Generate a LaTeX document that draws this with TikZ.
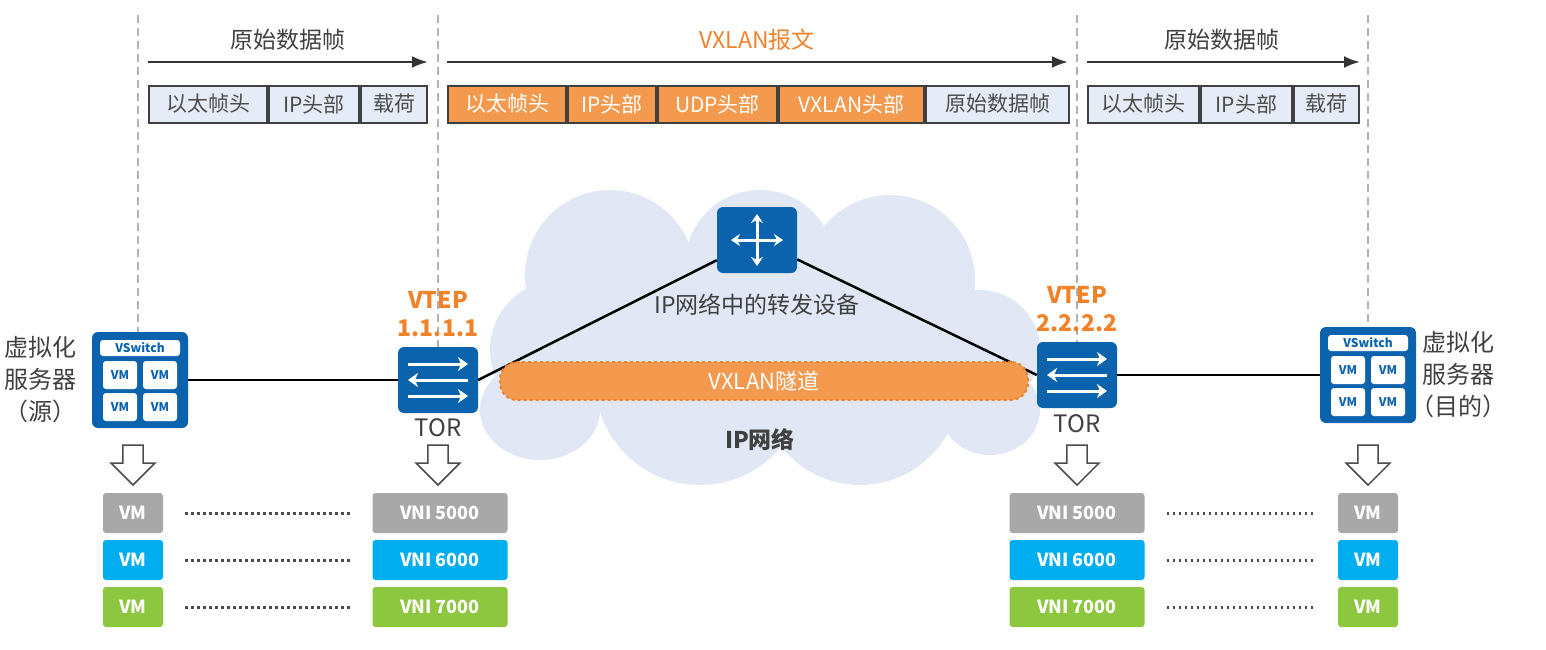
\documentclass[tikz,border=0pt]{standalone}
\usepackage{fontspec}
\setmainfont{Noto Sans CJK SC}
\usetikzlibrary{positioning,calc,shapes.arrows,arrows.meta}
\definecolor{hwblue}{HTML}{0B63AE}
\definecolor{hworange}{HTML}{F39A4F}
\definecolor{vtep}{HTML}{F0822A}
\definecolor{cloudc}{HTML}{E1E7F4}
\definecolor{pale}{HTML}{E6ECF7}
\definecolor{vmgray}{HTML}{A8A8A8}
\definecolor{vmblue}{HTML}{00AEEF}
\definecolor{vmgreen}{HTML}{8DC63F}
\tikzset{
fld/.style={draw=black!75,line width=2pt,fill=pale,minimum height=37pt,inner sep=0pt,font=\fontsize{21}{21}\selectfont,text=black!70},
ofld/.style={fld,fill=hworange,text=white},
dev/.style={draw=none,fill=hwblue,rounded corners=6pt,minimum width=80pt,minimum height=66pt},
vsw/.style={draw=none,fill=hwblue,rounded corners=6pt,minimum width=96pt,minimum height=96pt},
vm/.style={fill=#1,text=white,rounded corners=3pt,minimum height=40pt,inner sep=0pt,font=\fontsize{18}{18}\selectfont\bfseries},
hollow/.style={single arrow,draw=black!70,fill=white,line width=1.5pt,shape border rotate=270,minimum height=40pt,minimum width=44pt,single arrow head extend=8pt,inner sep=6pt},
sep/.style={dashed,line width=1.5pt,black!30,dash pattern=on 8pt off 5pt},
lbl/.style={font=\fontsize{23}{25}\selectfont,text=black!75,align=center}
}
\begin{document}
\begin{tikzpicture}[x=1pt,y=-1pt]
\useasboundingbox (0,0) rectangle (1546,649);
% cloud
\fill[cloudc] (610,275) circle (85) (760,265) circle (75) (890,280) circle (85)
  (560,350) circle (70) (980,350) circle (60) (700,380) circle (105) (860,385) circle (100)
  (540,410) ellipse (60 and 50) (990,410) ellipse (50 and 45);
% separators
\draw[sep] (138,15) -- (138,332);
\draw[sep] (438,15) -- (438,347);
\draw[sep] (1077,15) -- (1077,342);
\draw[sep] (1368,15) -- (1368,327);
% frame arrows
\coordinate (a1) at (148,62); \coordinate (b1) at (428,62);
\coordinate (a2) at (447,62); \coordinate (b2) at (1068,62);
\coordinate (a3) at (1087,62); \coordinate (b3) at (1360,62);
\foreach \s/\e in {a1/b1,a2/b2,a3/b3}
  \draw[line width=2.5pt,black!80,-{Latex[length=16pt,width=12pt]}] (\s) -- (\e);
\node[lbl] (t1) at (288,40) {原始数据帧};
\node[lbl,text=vtep] (t2) at (757,40) {VXLAN报文};
\node[lbl] (t3) at (1222,40) {原始数据帧};
% fields
\node[fld,minimum width=118pt,anchor=west] (f1) at (148,104) {以太帧头};
\node[fld,minimum width=90pt,right=0pt of f1] (f2) {IP头部};
\node[fld,minimum width=66pt,right=0pt of f2] (f3) {载荷};
\node[ofld,minimum width=118pt,anchor=west] (g1) at (447,104) {以太帧头};
\node[ofld,minimum width=88pt,right=0pt of g1] (g2) {IP头部};
\node[ofld,minimum width=119pt,right=0pt of g2] (g3) {UDP头部};
\node[ofld,minimum width=145pt,right=0pt of g3] (g4) {VXLAN头部};
\node[fld,minimum width=143pt,right=0pt of g4] (g5) {原始数据帧};
\node[fld,minimum width=111pt,anchor=west] (h1) at (1087,104) {以太帧头};
\node[fld,minimum width=91pt,right=0pt of h1] (h2) {IP头部};
\node[fld,minimum width=65pt,right=0pt of h2] (h3) {载荷};
% devices
\node[dev] (rt) at (757,240) {};
\node[dev] (torl) at (438,380) {};
\node[dev] (torr) at (1077,375) {};
\node[vsw] (vl) at (140,380) {};
\node[vsw] (vr) at (1368,375) {};
\foreach \d in {torl,torr}{
  \draw[white,line width=3pt,-{Stealth[length=10pt,width=14pt,inset=3pt]}] ($(\d)+(-30,-16)$) -- ($(\d)+(30,-16)$);
  \draw[white,line width=3pt,{Stealth[length=10pt,width=14pt,inset=3pt]}-] ($(\d)+(-30,0)$) -- ($(\d)+(30,0)$);
  \draw[white,line width=3pt,-{Stealth[length=10pt,width=14pt,inset=3pt]}] ($(\d)+(-30,16)$) -- ($(\d)+(30,16)$);
}
\draw[white,line width=3pt,{Stealth[length=9pt,width=12pt,inset=3pt]}-{Stealth[length=9pt,width=12pt,inset=3pt]}] ($(rt)+(-26,0)$) -- ($(rt)+(26,0)$);
\draw[white,line width=3pt,{Stealth[length=9pt,width=12pt,inset=3pt]}-{Stealth[length=9pt,width=12pt,inset=3pt]}] ($(rt)+(0,-26)$) -- ($(rt)+(0,26)$);
\foreach \v in {vl,vr}{
  \node[fill=white,rounded corners=3pt,minimum width=80pt,minimum height=16pt,inner sep=0pt,
    text=hwblue,font=\fontsize{12}{12}\selectfont\bfseries] at ($(\v)+(0,-32)$) {VSwitch};
  \foreach \i/\j in {-20/-5,20/-5,-20/27,20/27}
    \node[fill=white,rounded corners=3pt,minimum width=34pt,minimum height=28pt,inner sep=0pt,
      text=hwblue,font=\fontsize{12}{12}\selectfont\bfseries] at ($(\v)+(\i,\j)$) {VM};
}
% links
\draw[line width=2.5pt] (vl) -- (torl);
\draw[line width=2.5pt] (torl.east) -- (rt);
\draw[line width=2.5pt] (rt) -- (torr.west);
\draw[line width=2.5pt] (torr) -- (vr);
% tunnel
\node[fill=hworange,draw=vtep,dashed,line width=2pt,rounded corners=17pt,minimum width=528pt,minimum height=38pt,
  text=white,font=\fontsize{22}{22}\selectfont] (tun) at (764,381) {VXLAN隧道};
% labels
\node[lbl] (rtl) at (757,305) {IP网络中的转发设备};
\node[lbl,font=\fontsize{23}{25}\selectfont\bfseries] (net) at (760,440) {IP网络};
\node[lbl,text=vtep,font=\fontsize{23}{28}\selectfont\bfseries] (vt1) at (438,314) {VTEP\\1.1.1.1};
\node[lbl,text=vtep,font=\fontsize{23}{28}\selectfont\bfseries] (vt2) at (1077,309) {VTEP\\2.2.2.2};
\node[lbl,font=\fontsize{24}{26}\selectfont] (tl) at (438,428) {TOR};
\node[lbl,font=\fontsize{24}{26}\selectfont] (tr) at (1077,424) {TOR};
\node[lbl,font=\fontsize{24}{32}\selectfont] (sl) at (41,380) {虚拟化\\服务器\\（源）};
\node[lbl,font=\fontsize{24}{32}\selectfont] (sr) at (1458,375) {虚拟化\\服务器\\（目的）};
% hollow arrows
\foreach \x/\y in {133/460,438/460,1077/460,1368/460}
  \node[hollow] at (\x,\y) {};
% VM / VNI rows
\foreach \y/\c/\n in {513/vmgray/5000,560/vmblue/6000,607/vmgreen/7000}{
  \node[vm=\c,minimum width=60pt] (ml\n) at (133,\y) {VM};
  \node[vm=\c,minimum width=135pt] (nl\n) at (440,\y) {VNI \n};
  \node[vm=\c,minimum width=135pt] (nr\n) at (1077,\y) {VNI \n};
  \node[vm=\c,minimum width=60pt] (mr\n) at (1368,\y) {VM};
  \draw[line width=3pt,black!70,dash pattern=on 2.5pt off 3.5pt] ($(ml\n.east)+(22,0)$) -- ($(nl\n.west)+(-22,0)$);
  \draw[line width=3pt,black!70,dash pattern=on 2.5pt off 3.5pt] ($(nr\n.east)+(22,0)$) -- ($(mr\n.west)+(-22,0)$);
}
\end{tikzpicture}
\end{document}
